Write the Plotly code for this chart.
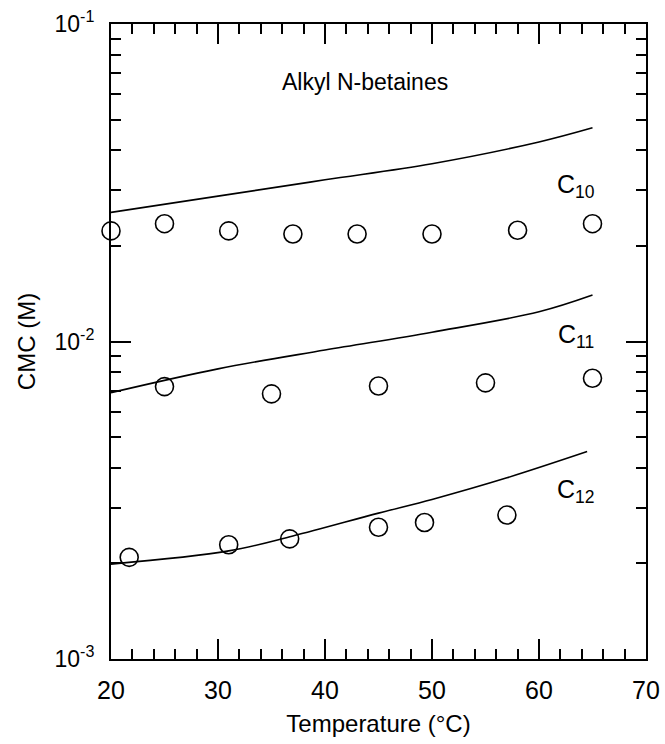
import math
import plotly.graph_objects as go

# ---- data ----
c10_line_T = [20, 30, 40, 50, 60, 65]
c10_line_cmc = [0.0255, 0.0287, 0.0323, 0.0363, 0.0425, 0.0471]
c10_pts_T = [20, 25, 31, 37, 43, 50, 58, 65]
c10_pts_cmc = [0.0223, 0.0235, 0.0223, 0.0218, 0.0218, 0.0218, 0.0224, 0.0235]

c11_line_T = [20, 30, 40, 50, 60, 65]
c11_line_cmc = [0.0069, 0.0082, 0.0094, 0.0107, 0.0124, 0.0140]
c11_pts_T = [25, 35, 45, 55, 65]
c11_pts_cmc = [0.00721, 0.00684, 0.00724, 0.00741, 0.00766]

c12_line_T = [20, 31, 37, 45, 50, 57, 64.5]
c12_line_cmc = [0.00199, 0.00219, 0.00244, 0.00288, 0.00318, 0.00372, 0.00450]
c12_pts_T = [21.7, 31, 36.7, 45, 49.3, 57]
c12_pts_cmc = [0.00209, 0.00229, 0.00239, 0.00260, 0.00269, 0.00284]

x_ticks = [20, 30, 40, 50, 60, 70]
y_ticks = [1e-3, 1e-2, 1e-1]
y_ticktext = ["10<sup>-3</sup>", "10<sup>-2</sup>", "10<sup>-1</sup>"]

labels = [("C<sub>10</sub>", 63.5, 0.0318), ("C<sub>11</sub>", 63.5, 0.0107), ("C<sub>12</sub>", 63.5, 0.00348)]

FONT = "Liberation Sans, Arial, sans-serif"

fig = go.Figure()
for lt, lc, pt, pc in [
    (c10_line_T, c10_line_cmc, c10_pts_T, c10_pts_cmc),
    (c11_line_T, c11_line_cmc, c11_pts_T, c11_pts_cmc),
    (c12_line_T, c12_line_cmc, c12_pts_T, c12_pts_cmc),
]:
    fig.add_trace(go.Scatter(x=lt, y=lc, mode="lines", line=dict(color="black", width=1.6),
                             line_shape="spline", showlegend=False, hoverinfo="skip"))
    fig.add_trace(go.Scatter(x=pt, y=pc, mode="markers",
                             marker=dict(symbol="circle-open", size=18, color="black",
                                         line=dict(width=1.6, color="black")),
                             showlegend=False, cliponaxis=False))

minor_y = [k * 10.0 ** e for e in (-3, -2) for k in range(2, 10)]

fig.update_xaxes(
    range=[20, 70], tickvals=x_ticks, ticks="inside", ticklen=20, tickwidth=2,
    tickcolor="black", showline=True, linecolor="black", linewidth=2, mirror="allticks",
    showgrid=False, zeroline=False,
    minor=dict(dtick=2, ticks="inside", ticklen=10, tickwidth=2, tickcolor="black", showgrid=False),
    tickfont=dict(size=25, color="black", family=FONT), ticklabelstandoff=8,
    title=dict(text="Temperature (°C)", font=dict(size=24, color="black", family=FONT), standoff=12),
)
fig.update_yaxes(
    type="log", range=[-3, -1], tickvals=y_ticks, ticktext=y_ticktext,
    ticks="inside", ticklen=20, tickwidth=2, tickcolor="black",
    showline=True, linecolor="black", linewidth=2, mirror="allticks",
    showgrid=False, zeroline=False,
    minor=dict(tickvals=minor_y, ticks="inside", ticklen=10, tickwidth=2, tickcolor="black", showgrid=False),
    tickfont=dict(size=23, color="black", family=FONT), ticklabelstandoff=10,
    title=dict(text="CMC (M)", font=dict(size=24, color="black", family=FONT), standoff=12),
)

fig.add_annotation(x=43.7, y=-1.182, xref="x", yref="y", text="Alkyl N-betaines", showarrow=False,
                   font=dict(size=23, color="black", family=FONT))
for txt, tx, ty in labels:
    fig.add_annotation(x=tx, y=math.log10(ty), xref="x", yref="y", text=txt, showarrow=False,
                       font=dict(size=25, color="black", family=FONT), yshift=-4)

fig.update_layout(
    width=665, height=744, margin=dict(l=111, r=19, t=24, b=85, autoexpand=False),
    paper_bgcolor="white", plot_bgcolor="white",
    font=dict(family=FONT, color="black"),
)

fig.write_html("out.html")
